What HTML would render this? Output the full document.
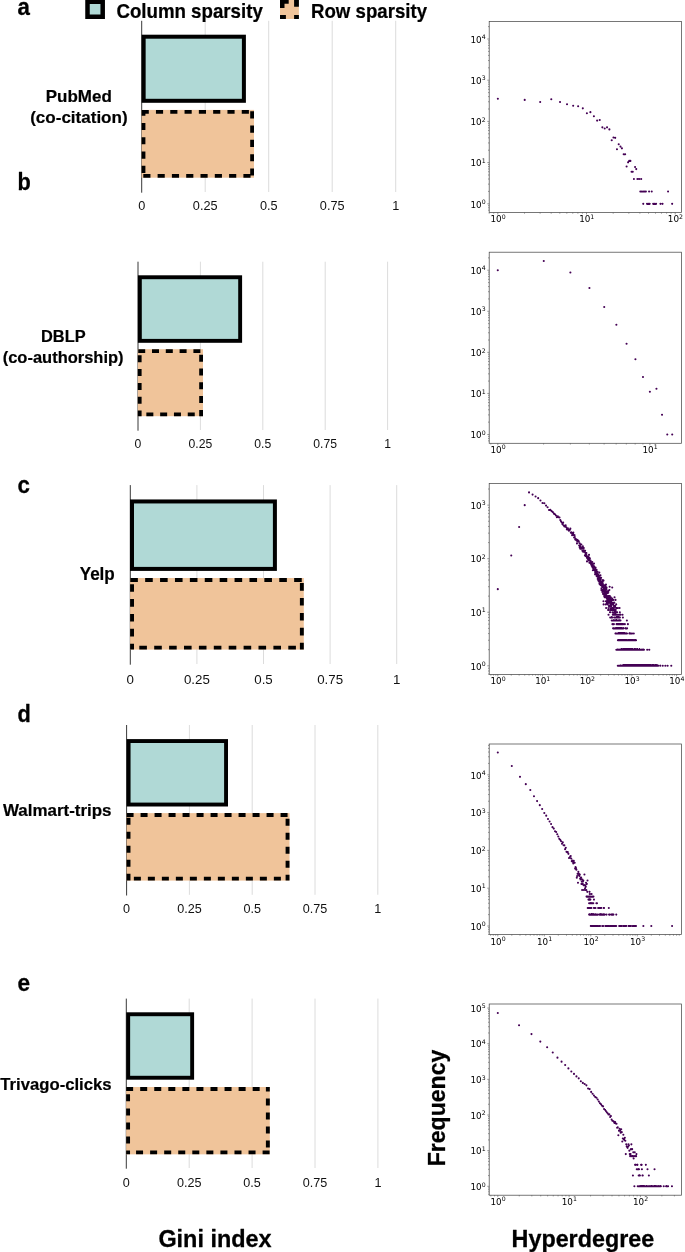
<!DOCTYPE html>
<html lang="en"><head><meta charset="utf-8"><title>Sparsity and hyperdegree distributions</title>
<style>html,body{margin:0;padding:0;background:#fff;}body{width:685px;height:1252px;overflow:hidden;}svg{display:block;}</style>
</head><body>
<svg width="685" height="1252" viewBox="0 0 685 1252">
<rect width="685" height="1252" fill="#fff"/>
<g>
<line x1="205.2" y1="20.8" x2="205.2" y2="192" stroke="#d0d0d0" stroke-width="0.75"/>
<line x1="268.7" y1="20.8" x2="268.7" y2="192" stroke="#d0d0d0" stroke-width="0.75"/>
<line x1="332.2" y1="20.8" x2="332.2" y2="192" stroke="#d0d0d0" stroke-width="0.75"/>
<line x1="395.7" y1="20.8" x2="395.7" y2="192" stroke="#d0d0d0" stroke-width="0.75"/>
<line x1="141.7" y1="20.8" x2="141.7" y2="192.7" stroke="#222" stroke-width="0.9"/>
<rect x="143.65" y="36.7" width="100.25" height="64.1" fill="#b0d9d6" stroke="#000" stroke-width="4"/>
<rect x="141.6" y="109.9" width="112.4" height="67.8" fill="#f0c49a"/>
<path d="M141.65 109.9h7.15v3.8h-7.15zM155.95 109.9h7.15v3.8h-7.15zM170.25 109.9h7.15v3.8h-7.15zM184.55 109.9h7.15v3.8h-7.15zM198.85 109.9h7.15v3.8h-7.15zM213.15 109.9h7.15v3.8h-7.15zM227.45 109.9h7.15v3.8h-7.15zM241.75 109.9h7.15v3.8h-7.15zM143.3 173.9h7.15v3.8h-7.15zM157.6 173.9h7.15v3.8h-7.15zM171.9 173.9h7.15v3.8h-7.15zM186.2 173.9h7.15v3.8h-7.15zM200.5 173.9h7.15v3.8h-7.15zM214.8 173.9h7.15v3.8h-7.15zM229.1 173.9h7.15v3.8h-7.15zM243.4 173.9h7.15v3.8h-7.15zM141.6 109.9h3.8v5.85h-3.8zM141.6 122.9h3.8v7.15h-3.8zM141.6 137.2h3.8v7.15h-3.8zM141.6 151.5h3.8v7.15h-3.8zM141.6 165.8h3.8v7.15h-3.8zM250.2 111.24h3.8v7.15h-3.8zM250.2 125.54h3.8v7.15h-3.8zM250.2 139.84h3.8v7.15h-3.8zM250.2 154.14h3.8v7.15h-3.8zM250.2 168.44h3.8v7.15h-3.8z" fill="#000"/>
<text x="45.7" y="102.4" font-family='"Liberation Sans", Arial, Helvetica, sans-serif' font-size="16.9" font-weight="bold" text-anchor="start" fill="#000" textLength="66.1" lengthAdjust="spacingAndGlyphs" stroke="#000" stroke-width="0.2" stroke-linejoin="round">PubMed</text>
<text x="30.2" y="123.4" font-family='"Liberation Sans", Arial, Helvetica, sans-serif' font-size="16.9" font-weight="bold" text-anchor="start" fill="#000" textLength="97.4" lengthAdjust="spacingAndGlyphs" stroke="#000" stroke-width="0.2" stroke-linejoin="round">(co-citation)</text>
<text x="141.7" y="210.3" font-family='"Liberation Sans", Arial, Helvetica, sans-serif' font-size="12.7" font-weight="normal" text-anchor="middle" fill="#111">0</text>
<text x="205.2" y="210.3" font-family='"Liberation Sans", Arial, Helvetica, sans-serif' font-size="12.7" font-weight="normal" text-anchor="middle" fill="#111">0.25</text>
<text x="268.7" y="210.3" font-family='"Liberation Sans", Arial, Helvetica, sans-serif' font-size="12.7" font-weight="normal" text-anchor="middle" fill="#111">0.5</text>
<text x="332.2" y="210.3" font-family='"Liberation Sans", Arial, Helvetica, sans-serif' font-size="12.7" font-weight="normal" text-anchor="middle" fill="#111">0.75</text>
<text x="395.7" y="210.3" font-family='"Liberation Sans", Arial, Helvetica, sans-serif' font-size="12.7" font-weight="normal" text-anchor="middle" fill="#111">1</text>
<text x="17.4" y="14.8" font-family='"Liberation Sans", Arial, Helvetica, sans-serif' font-size="24" font-weight="bold" text-anchor="start" fill="#000" textLength="12.4" lengthAdjust="spacingAndGlyphs" stroke="#000" stroke-width="0.29" stroke-linejoin="round">a</text>
</g>
<g>
<line x1="200.4" y1="261.7" x2="200.4" y2="430" stroke="#d0d0d0" stroke-width="0.75"/>
<line x1="262.8" y1="261.7" x2="262.8" y2="430" stroke="#d0d0d0" stroke-width="0.75"/>
<line x1="325.2" y1="261.7" x2="325.2" y2="430" stroke="#d0d0d0" stroke-width="0.75"/>
<line x1="387.6" y1="261.7" x2="387.6" y2="430" stroke="#d0d0d0" stroke-width="0.75"/>
<line x1="138" y1="261.7" x2="138" y2="430.7" stroke="#222" stroke-width="0.9"/>
<rect x="139.85" y="277.25" width="100.3" height="63.6" fill="#b0d9d6" stroke="#000" stroke-width="3.9"/>
<rect x="137.8" y="349.2" width="65.2" height="67" fill="#f0c49a"/>
<path d="M138.2 349.2h7v3.8h-7zM152 349.2h7v3.8h-7zM165.8 349.2h7v3.8h-7zM179.6 349.2h7v3.8h-7zM193.4 349.2h7v3.8h-7zM137.8 412.4h1.75v3.8h-1.75zM146.35 412.4h7v3.8h-7zM160.15 412.4h7v3.8h-7zM173.95 412.4h7v3.8h-7zM187.75 412.4h7v3.8h-7zM201.55 412.4h1.45v3.8h-1.45zM137.8 355.3h3.8v7h-3.8zM137.8 369.1h3.8v7h-3.8zM137.8 382.9h3.8v7h-3.8zM137.8 396.7h3.8v7h-3.8zM137.8 410.5h3.8v5.7h-3.8zM199.2 354.7h3.8v7h-3.8zM199.2 368.5h3.8v7h-3.8zM199.2 382.3h3.8v7h-3.8zM199.2 396.1h3.8v7h-3.8zM199.2 409.9h3.8v6.3h-3.8z" fill="#000"/>
<text x="41" y="341.6" font-family='"Liberation Sans", Arial, Helvetica, sans-serif' font-size="16.61" font-weight="bold" text-anchor="start" fill="#000" textLength="44.6" lengthAdjust="spacingAndGlyphs" stroke="#000" stroke-width="0.2" stroke-linejoin="round">DBLP</text>
<text x="2.7" y="362.8" font-family='"Liberation Sans", Arial, Helvetica, sans-serif' font-size="16.61" font-weight="bold" text-anchor="start" fill="#000" textLength="120.9" lengthAdjust="spacingAndGlyphs" stroke="#000" stroke-width="0.2" stroke-linejoin="round">(co-authorship)</text>
<text x="138" y="448.3" font-family='"Liberation Sans", Arial, Helvetica, sans-serif' font-size="12.2" font-weight="normal" text-anchor="middle" fill="#111">0</text>
<text x="200.4" y="448.3" font-family='"Liberation Sans", Arial, Helvetica, sans-serif' font-size="12.2" font-weight="normal" text-anchor="middle" fill="#111">0.25</text>
<text x="262.8" y="448.3" font-family='"Liberation Sans", Arial, Helvetica, sans-serif' font-size="12.2" font-weight="normal" text-anchor="middle" fill="#111">0.5</text>
<text x="325.2" y="448.3" font-family='"Liberation Sans", Arial, Helvetica, sans-serif' font-size="12.2" font-weight="normal" text-anchor="middle" fill="#111">0.75</text>
<text x="387.6" y="448.3" font-family='"Liberation Sans", Arial, Helvetica, sans-serif' font-size="12.2" font-weight="normal" text-anchor="middle" fill="#111">1</text>
<text x="17.4" y="189.5" font-family='"Liberation Sans", Arial, Helvetica, sans-serif' font-size="24" font-weight="bold" text-anchor="start" fill="#000" textLength="13.3" lengthAdjust="spacingAndGlyphs" stroke="#000" stroke-width="0.29" stroke-linejoin="round">b</text>
</g>
<g>
<line x1="196.9" y1="485.1" x2="196.9" y2="664" stroke="#d0d0d0" stroke-width="0.75"/>
<line x1="263.5" y1="485.1" x2="263.5" y2="664" stroke="#d0d0d0" stroke-width="0.75"/>
<line x1="330.1" y1="485.1" x2="330.1" y2="664" stroke="#d0d0d0" stroke-width="0.75"/>
<line x1="396.7" y1="485.1" x2="396.7" y2="664" stroke="#d0d0d0" stroke-width="0.75"/>
<line x1="130.3" y1="485.1" x2="130.3" y2="664.7" stroke="#222" stroke-width="0.9"/>
<rect x="132" y="501.45" width="142.9" height="67.45" fill="#b0d9d6" stroke="#000" stroke-width="4"/>
<rect x="130.1" y="578" width="173.7" height="71.6" fill="#f0c49a"/>
<path d="M130.26 578h7.6v3.9h-7.6zM145.16 578h7.6v3.9h-7.6zM160.06 578h7.6v3.9h-7.6zM174.96 578h7.6v3.9h-7.6zM189.86 578h7.6v3.9h-7.6zM204.76 578h7.6v3.9h-7.6zM219.66 578h7.6v3.9h-7.6zM234.56 578h7.6v3.9h-7.6zM249.46 578h7.6v3.9h-7.6zM264.36 578h7.6v3.9h-7.6zM279.26 578h7.6v3.9h-7.6zM294.16 578h7.6v3.9h-7.6zM130.1 645.7h1.9v3.9h-1.9zM139.3 645.7h7.6v3.9h-7.6zM154.2 645.7h7.6v3.9h-7.6zM169.1 645.7h7.6v3.9h-7.6zM184 645.7h7.6v3.9h-7.6zM198.9 645.7h7.6v3.9h-7.6zM213.8 645.7h7.6v3.9h-7.6zM228.7 645.7h7.6v3.9h-7.6zM243.6 645.7h7.6v3.9h-7.6zM258.5 645.7h7.6v3.9h-7.6zM273.4 645.7h7.6v3.9h-7.6zM288.3 645.7h7.6v3.9h-7.6zM303.2 645.7h0.6v3.9h-0.6zM130.1 584.16h3.9v7.6h-3.9zM130.1 599.06h3.9v7.6h-3.9zM130.1 613.96h3.9v7.6h-3.9zM130.1 628.86h3.9v7.6h-3.9zM130.1 643.76h3.9v5.84h-3.9zM299.9 583.1h3.9v7.6h-3.9zM299.9 598h3.9v7.6h-3.9zM299.9 612.9h3.9v7.6h-3.9zM299.9 627.8h3.9v7.6h-3.9zM299.9 642.7h3.9v6.9h-3.9z" fill="#000"/>
<text x="79.7" y="580" font-family='"Liberation Sans", Arial, Helvetica, sans-serif' font-size="17.73" font-weight="bold" text-anchor="start" fill="#000" textLength="35.1" lengthAdjust="spacingAndGlyphs" stroke="#000" stroke-width="0.21" stroke-linejoin="round">Yelp</text>
<text x="130.3" y="683.7" font-family='"Liberation Sans", Arial, Helvetica, sans-serif' font-size="13.3" font-weight="normal" text-anchor="middle" fill="#111">0</text>
<text x="196.9" y="683.7" font-family='"Liberation Sans", Arial, Helvetica, sans-serif' font-size="13.3" font-weight="normal" text-anchor="middle" fill="#111">0.25</text>
<text x="263.5" y="683.7" font-family='"Liberation Sans", Arial, Helvetica, sans-serif' font-size="13.3" font-weight="normal" text-anchor="middle" fill="#111">0.5</text>
<text x="330.1" y="683.7" font-family='"Liberation Sans", Arial, Helvetica, sans-serif' font-size="13.3" font-weight="normal" text-anchor="middle" fill="#111">0.75</text>
<text x="396.7" y="683.7" font-family='"Liberation Sans", Arial, Helvetica, sans-serif' font-size="13.3" font-weight="normal" text-anchor="middle" fill="#111">1</text>
<text x="17.4" y="493.1" font-family='"Liberation Sans", Arial, Helvetica, sans-serif' font-size="24" font-weight="bold" text-anchor="start" fill="#000" textLength="12.4" lengthAdjust="spacingAndGlyphs" stroke="#000" stroke-width="0.29" stroke-linejoin="round">c</text>
</g>
<g>
<line x1="189.4" y1="725" x2="189.4" y2="894.8" stroke="#d0d0d0" stroke-width="0.75"/>
<line x1="252.2" y1="725" x2="252.2" y2="894.8" stroke="#d0d0d0" stroke-width="0.75"/>
<line x1="315" y1="725" x2="315" y2="894.8" stroke="#d0d0d0" stroke-width="0.75"/>
<line x1="377.8" y1="725" x2="377.8" y2="894.8" stroke="#d0d0d0" stroke-width="0.75"/>
<line x1="126.6" y1="725" x2="126.6" y2="895.5" stroke="#222" stroke-width="0.9"/>
<rect x="128.6" y="741.05" width="97.45" height="63.5" fill="#b0d9d6" stroke="#000" stroke-width="3.9"/>
<rect x="126.57" y="813.1" width="162.93" height="67.5" fill="#f0c49a"/>
<path d="M126.57 813.1h7v3.9h-7zM140.57 813.1h7v3.9h-7zM154.57 813.1h7v3.9h-7zM168.57 813.1h7v3.9h-7zM182.57 813.1h7v3.9h-7zM196.57 813.1h7v3.9h-7zM210.57 813.1h7v3.9h-7zM224.57 813.1h7v3.9h-7zM238.57 813.1h7v3.9h-7zM252.57 813.1h7v3.9h-7zM266.57 813.1h7v3.9h-7zM280.57 813.1h7v3.9h-7zM126.57 876.7h0.3v3.9h-0.3zM133.87 876.7h7v3.9h-7zM147.87 876.7h7v3.9h-7zM161.87 876.7h7v3.9h-7zM175.87 876.7h7v3.9h-7zM189.87 876.7h7v3.9h-7zM203.87 876.7h7v3.9h-7zM217.87 876.7h7v3.9h-7zM231.87 876.7h7v3.9h-7zM245.87 876.7h7v3.9h-7zM259.87 876.7h7v3.9h-7zM273.87 876.7h7v3.9h-7zM287.87 876.7h1.63v3.9h-1.63zM126.57 817.85h3.9v7h-3.9zM126.57 831.85h3.9v7h-3.9zM126.57 845.85h3.9v7h-3.9zM126.57 859.85h3.9v7h-3.9zM126.57 873.85h3.9v6.75h-3.9zM285.6 818.87h3.9v7h-3.9zM285.6 832.87h3.9v7h-3.9zM285.6 846.87h3.9v7h-3.9zM285.6 860.87h3.9v7h-3.9zM285.6 874.87h3.9v5.73h-3.9z" fill="#000"/>
<text x="3" y="815.8" font-family='"Liberation Sans", Arial, Helvetica, sans-serif' font-size="16.71" font-weight="bold" text-anchor="start" fill="#000" textLength="108.5" lengthAdjust="spacingAndGlyphs" stroke="#000" stroke-width="0.2" stroke-linejoin="round">Walmart-trips</text>
<text x="126.6" y="913.3" font-family='"Liberation Sans", Arial, Helvetica, sans-serif' font-size="12.6" font-weight="normal" text-anchor="middle" fill="#111">0</text>
<text x="189.4" y="913.3" font-family='"Liberation Sans", Arial, Helvetica, sans-serif' font-size="12.6" font-weight="normal" text-anchor="middle" fill="#111">0.25</text>
<text x="252.2" y="913.3" font-family='"Liberation Sans", Arial, Helvetica, sans-serif' font-size="12.6" font-weight="normal" text-anchor="middle" fill="#111">0.5</text>
<text x="315" y="913.3" font-family='"Liberation Sans", Arial, Helvetica, sans-serif' font-size="12.6" font-weight="normal" text-anchor="middle" fill="#111">0.75</text>
<text x="377.8" y="913.3" font-family='"Liberation Sans", Arial, Helvetica, sans-serif' font-size="12.6" font-weight="normal" text-anchor="middle" fill="#111">1</text>
<text x="17.4" y="721.8" font-family='"Liberation Sans", Arial, Helvetica, sans-serif' font-size="24" font-weight="bold" text-anchor="start" fill="#000" textLength="13.3" lengthAdjust="spacingAndGlyphs" stroke="#000" stroke-width="0.29" stroke-linejoin="round">d</text>
</g>
<g>
<line x1="189.2" y1="998.6" x2="189.2" y2="1168" stroke="#d0d0d0" stroke-width="0.75"/>
<line x1="252.1" y1="998.6" x2="252.1" y2="1168" stroke="#d0d0d0" stroke-width="0.75"/>
<line x1="315" y1="998.6" x2="315" y2="1168" stroke="#d0d0d0" stroke-width="0.75"/>
<line x1="377.9" y1="998.6" x2="377.9" y2="1168" stroke="#d0d0d0" stroke-width="0.75"/>
<line x1="126.3" y1="998.6" x2="126.3" y2="1168.7" stroke="#222" stroke-width="0.9"/>
<rect x="128.19" y="1014.25" width="63.96" height="63.5" fill="#b0d9d6" stroke="#000" stroke-width="3.9"/>
<rect x="126.13" y="1087" width="143.67" height="67.35" fill="#f0c49a"/>
<path d="M126.13 1087h7v3.9h-7zM140.19 1087h7v3.9h-7zM154.25 1087h7v3.9h-7zM168.31 1087h7v3.9h-7zM182.37 1087h7v3.9h-7zM196.43 1087h7v3.9h-7zM210.49 1087h7v3.9h-7zM224.55 1087h7v3.9h-7zM238.61 1087h7v3.9h-7zM252.67 1087h7v3.9h-7zM266.73 1087h3.07v3.9h-3.07zM126.13 1150.45h2.87v3.9h-2.87zM136.06 1150.45h7v3.9h-7zM150.12 1150.45h7v3.9h-7zM164.18 1150.45h7v3.9h-7zM178.24 1150.45h7v3.9h-7zM192.3 1150.45h7v3.9h-7zM206.36 1150.45h7v3.9h-7zM220.42 1150.45h7v3.9h-7zM234.48 1150.45h7v3.9h-7zM248.54 1150.45h7v3.9h-7zM262.6 1150.45h7v3.9h-7zM126.13 1087h3.9v0.29h-3.9zM126.13 1094.35h3.9v7h-3.9zM126.13 1108.41h3.9v7h-3.9zM126.13 1122.47h3.9v7h-3.9zM126.13 1136.53h3.9v7h-3.9zM126.13 1150.59h3.9v3.76h-3.9zM265.9 1087h3.9v4.38h-3.9zM265.9 1098.44h3.9v7h-3.9zM265.9 1112.5h3.9v7h-3.9zM265.9 1126.56h3.9v7h-3.9zM265.9 1140.62h3.9v7h-3.9z" fill="#000"/>
<text x="0.3" y="1090" font-family='"Liberation Sans", Arial, Helvetica, sans-serif' font-size="16.74" font-weight="bold" text-anchor="start" fill="#000" textLength="111.3" lengthAdjust="spacingAndGlyphs" stroke="#000" stroke-width="0.2" stroke-linejoin="round">Trivago-clicks</text>
<text x="126.3" y="1187.1" font-family='"Liberation Sans", Arial, Helvetica, sans-serif' font-size="12.6" font-weight="normal" text-anchor="middle" fill="#111">0</text>
<text x="189.2" y="1187.1" font-family='"Liberation Sans", Arial, Helvetica, sans-serif' font-size="12.6" font-weight="normal" text-anchor="middle" fill="#111">0.25</text>
<text x="252.1" y="1187.1" font-family='"Liberation Sans", Arial, Helvetica, sans-serif' font-size="12.6" font-weight="normal" text-anchor="middle" fill="#111">0.5</text>
<text x="315" y="1187.1" font-family='"Liberation Sans", Arial, Helvetica, sans-serif' font-size="12.6" font-weight="normal" text-anchor="middle" fill="#111">0.75</text>
<text x="377.9" y="1187.1" font-family='"Liberation Sans", Arial, Helvetica, sans-serif' font-size="12.6" font-weight="normal" text-anchor="middle" fill="#111">1</text>
<text x="17.4" y="991.2" font-family='"Liberation Sans", Arial, Helvetica, sans-serif' font-size="24" font-weight="bold" text-anchor="start" fill="#000" textLength="12.6" lengthAdjust="spacingAndGlyphs" stroke="#000" stroke-width="0.29" stroke-linejoin="round">e</text>
</g>
<g>
<rect x="87.5" y="1.75" width="15.2" height="15" fill="#b0d9d6" stroke="#000" stroke-width="4.5"/>
<text x="116.4" y="17.5" font-family='"Liberation Sans", Arial, Helvetica, sans-serif' font-size="19.7" font-weight="bold" text-anchor="start" fill="#000" textLength="146.4" lengthAdjust="spacingAndGlyphs" stroke="#000" stroke-width="0.24" stroke-linejoin="round">Column sparsity</text>
<rect x="280" y="-1" width="18.9" height="20" fill="#f0c49a"/>
<path d="M280 0h8.7v3.8h-4.2v4.1h-4.5zM294.1 0h4.8v6.7h-4.8zM280 14.9h5.9v4.1h-5.9zM294.1 15h4.8v4h-4.8z" fill="#000"/>
<text x="311" y="17.5" font-family='"Liberation Sans", Arial, Helvetica, sans-serif' font-size="19.7" font-weight="bold" text-anchor="start" fill="#000" textLength="116" lengthAdjust="spacingAndGlyphs" stroke="#000" stroke-width="0.24" stroke-linejoin="round">Row sparsity</text>
</g>
<g>
<rect x="489.2" y="21.5" width="192.2" height="191" fill="#fff" stroke="#4a4a4a" stroke-width="0.75"/>
<path d="M489.2 212.5v1.2M493.74 212.5v1.2M497.8 212.5v1.9M524.5 212.5v1.2M540.12 212.5v1.2M551.2 212.5v1.2M559.8 212.5v1.2M566.82 212.5v1.2M572.76 212.5v1.2M577.9 212.5v1.2M582.44 212.5v1.2M586.5 212.5v1.9M613.2 212.5v1.2M628.82 212.5v1.2M639.9 212.5v1.2M648.5 212.5v1.2M655.52 212.5v1.2M661.46 212.5v1.2M666.6 212.5v1.2M671.14 212.5v1.2M675.2 212.5v1.9M489.2 210.18h-1.2M489.2 207.79h-1.2M489.2 205.69h-1.2M489.2 203.8h-1.9M489.2 191.4h-1.2M489.2 184.14h-1.2M489.2 179h-1.2M489.2 175h-1.2M489.2 171.74h-1.2M489.2 168.98h-1.2M489.2 166.59h-1.2M489.2 164.49h-1.2M489.2 162.6h-1.9M489.2 150.2h-1.2M489.2 142.94h-1.2M489.2 137.8h-1.2M489.2 133.8h-1.2M489.2 130.54h-1.2M489.2 127.78h-1.2M489.2 125.39h-1.2M489.2 123.29h-1.2M489.2 121.4h-1.9M489.2 109h-1.2M489.2 101.74h-1.2M489.2 96.6h-1.2M489.2 92.6h-1.2M489.2 89.34h-1.2M489.2 86.58h-1.2M489.2 84.19h-1.2M489.2 82.09h-1.2M489.2 80.2h-1.9M489.2 67.8h-1.2M489.2 60.54h-1.2M489.2 55.4h-1.2M489.2 51.4h-1.2M489.2 48.14h-1.2M489.2 45.38h-1.2M489.2 42.99h-1.2M489.2 40.89h-1.2M489.2 39h-1.9M489.2 26.6h-1.2" stroke="#555" stroke-width="0.6" fill="none"/>
<text x="498" y="222.1" font-family='"DejaVu Sans", "Liberation Sans", sans-serif' font-size="8.8" font-weight="normal" text-anchor="middle" fill="#000">10<tspan dy="-3.5" font-size="6.2">0</tspan></text>
<text x="586.7" y="222.1" font-family='"DejaVu Sans", "Liberation Sans", sans-serif' font-size="8.8" font-weight="normal" text-anchor="middle" fill="#000">10<tspan dy="-3.5" font-size="6.2">1</tspan></text>
<text x="675.4" y="222.1" font-family='"DejaVu Sans", "Liberation Sans", sans-serif' font-size="8.8" font-weight="normal" text-anchor="middle" fill="#000">10<tspan dy="-3.5" font-size="6.2">2</tspan></text>
<text x="485.6" y="207.5" font-family='"DejaVu Sans", "Liberation Sans", sans-serif' font-size="8.8" font-weight="normal" text-anchor="end" fill="#000">10<tspan dy="-3.5" font-size="6.2">0</tspan></text>
<text x="485.6" y="166.3" font-family='"DejaVu Sans", "Liberation Sans", sans-serif' font-size="8.8" font-weight="normal" text-anchor="end" fill="#000">10<tspan dy="-3.5" font-size="6.2">1</tspan></text>
<text x="485.6" y="125.1" font-family='"DejaVu Sans", "Liberation Sans", sans-serif' font-size="8.8" font-weight="normal" text-anchor="end" fill="#000">10<tspan dy="-3.5" font-size="6.2">2</tspan></text>
<text x="485.6" y="83.9" font-family='"DejaVu Sans", "Liberation Sans", sans-serif' font-size="8.8" font-weight="normal" text-anchor="end" fill="#000">10<tspan dy="-3.5" font-size="6.2">3</tspan></text>
<text x="485.6" y="42.7" font-family='"DejaVu Sans", "Liberation Sans", sans-serif' font-size="8.8" font-weight="normal" text-anchor="end" fill="#000">10<tspan dy="-3.5" font-size="6.2">4</tspan></text>
<path d="M497.85 98.72h0M524.71 99.89h0M540.18 101.93h0M551.28 99.31h0M560.04 101.93h0M567.04 104.27h0M573.18 105.73h0M578.14 106.31h0M582.81 108.36h0M586.9 113.32h0M590.4 112.15h0M593.91 116.24h0M597.12 120.62h0M599.74 120.04h0M602.37 127.34h0M604.71 128.5h0M607.04 127.34h0M609.38 129.38h0M611.72 140.18h0M613.47 137.55h0M615.22 137.85h0M616.97 149.23h0M618.72 144.27h0M620.47 146.61h0M621.93 148.36h0M623.69 154.2h0M625.15 154.2h0M626.61 166.46h0M628.07 162.37h0M629.23 160.91h0M630.4 160.91h0M631.57 171.72h0M632.74 171.72h0M633.91 179.01h0M635.07 167.04h0M636.24 169.09h0M637.41 179.01h0M639.16 179.01h0M641.2 179.01h0M640.33 191.57h0M641.79 191.57h0M643.25 191.57h0M644.71 191.57h0M645.88 191.57h0M649.09 191.57h0M651.72 191.57h0M668.07 191.57h0M643.25 203.83h0M647.04 203.83h0M648.5 203.83h0M649.67 203.83h0M653.18 203.83h0M654.64 203.83h0M656.09 203.83h0M660.47 203.83h0M662.52 203.83h0M672.15 203.83h0" stroke="#440154" stroke-width="2.1" stroke-linecap="round" fill="none"/>
</g>
<g>
<rect x="489.2" y="252.2" width="192.2" height="191.1" fill="#fff" stroke="#4a4a4a" stroke-width="0.75"/>
<path d="M490.84 443.3v1.2M497.8 443.3v1.9M543.59 443.3v1.2M570.37 443.3v1.2M589.37 443.3v1.2M604.11 443.3v1.2M616.16 443.3v1.2M626.34 443.3v1.2M635.16 443.3v1.2M642.94 443.3v1.2M649.9 443.3v1.9M489.2 440.86h-1.2M489.2 438.48h-1.2M489.2 436.38h-1.2M489.2 434.5h-1.9M489.2 422.14h-1.2M489.2 414.9h-1.2M489.2 409.77h-1.2M489.2 405.79h-1.2M489.2 402.54h-1.2M489.2 399.79h-1.2M489.2 397.41h-1.2M489.2 395.31h-1.2M489.2 393.43h-1.9M489.2 381.07h-1.2M489.2 373.83h-1.2M489.2 368.7h-1.2M489.2 364.72h-1.2M489.2 361.47h-1.2M489.2 358.72h-1.2M489.2 356.34h-1.2M489.2 354.24h-1.2M489.2 352.36h-1.9M489.2 340h-1.2M489.2 332.76h-1.2M489.2 327.63h-1.2M489.2 323.65h-1.2M489.2 320.4h-1.2M489.2 317.65h-1.2M489.2 315.27h-1.2M489.2 313.17h-1.2M489.2 311.29h-1.9M489.2 298.93h-1.2M489.2 291.69h-1.2M489.2 286.56h-1.2M489.2 282.58h-1.2M489.2 279.33h-1.2M489.2 276.58h-1.2M489.2 274.2h-1.2M489.2 272.1h-1.2M489.2 270.22h-1.9M489.2 257.86h-1.2" stroke="#555" stroke-width="0.6" fill="none"/>
<text x="498" y="452.9" font-family='"DejaVu Sans", "Liberation Sans", sans-serif' font-size="8.8" font-weight="normal" text-anchor="middle" fill="#000">10<tspan dy="-3.5" font-size="6.2">0</tspan></text>
<text x="650.1" y="452.9" font-family='"DejaVu Sans", "Liberation Sans", sans-serif' font-size="8.8" font-weight="normal" text-anchor="middle" fill="#000">10<tspan dy="-3.5" font-size="6.2">1</tspan></text>
<text x="485.6" y="438.2" font-family='"DejaVu Sans", "Liberation Sans", sans-serif' font-size="8.8" font-weight="normal" text-anchor="end" fill="#000">10<tspan dy="-3.5" font-size="6.2">0</tspan></text>
<text x="485.6" y="397.13" font-family='"DejaVu Sans", "Liberation Sans", sans-serif' font-size="8.8" font-weight="normal" text-anchor="end" fill="#000">10<tspan dy="-3.5" font-size="6.2">1</tspan></text>
<text x="485.6" y="356.06" font-family='"DejaVu Sans", "Liberation Sans", sans-serif' font-size="8.8" font-weight="normal" text-anchor="end" fill="#000">10<tspan dy="-3.5" font-size="6.2">2</tspan></text>
<text x="485.6" y="314.99" font-family='"DejaVu Sans", "Liberation Sans", sans-serif' font-size="8.8" font-weight="normal" text-anchor="end" fill="#000">10<tspan dy="-3.5" font-size="6.2">3</tspan></text>
<text x="485.6" y="273.92" font-family='"DejaVu Sans", "Liberation Sans", sans-serif' font-size="8.8" font-weight="normal" text-anchor="end" fill="#000">10<tspan dy="-3.5" font-size="6.2">4</tspan></text>
<path d="M497.78 270.22h0M543.77 261.02h0M570.38 272.52h0M589.43 287.96h0M604.22 307.02h0M616.37 324.76h0M626.56 343.81h0M635.43 359.25h0M642.98 376.99h0M649.88 391.77h0M656.45 388.82h0M662.04 414.77h0M667.29 434.48h0M672.22 434.48h0" stroke="#440154" stroke-width="2.1" stroke-linecap="round" fill="none"/>
</g>
<g>
<rect x="489.2" y="483.5" width="192.2" height="190.9" fill="#fff" stroke="#4a4a4a" stroke-width="0.75"/>
<path d="M490.88 674.4v1.2M493.47 674.4v1.2M495.75 674.4v1.2M497.8 674.4v1.9M511.26 674.4v1.2M519.13 674.4v1.2M524.71 674.4v1.2M529.04 674.4v1.2M532.58 674.4v1.2M535.58 674.4v1.2M538.17 674.4v1.2M540.45 674.4v1.2M542.5 674.4v1.9M555.96 674.4v1.2M563.83 674.4v1.2M569.41 674.4v1.2M573.74 674.4v1.2M577.28 674.4v1.2M580.28 674.4v1.2M582.87 674.4v1.2M585.15 674.4v1.2M587.2 674.4v1.9M600.66 674.4v1.2M608.53 674.4v1.2M614.11 674.4v1.2M618.44 674.4v1.2M621.98 674.4v1.2M624.98 674.4v1.2M627.57 674.4v1.2M629.85 674.4v1.2M631.9 674.4v1.9M645.36 674.4v1.2M653.23 674.4v1.2M658.81 674.4v1.2M663.14 674.4v1.2M666.68 674.4v1.2M669.68 674.4v1.2M672.27 674.4v1.2M674.55 674.4v1.2M676.6 674.4v1.9M489.2 674.09h-1.2M489.2 670.99h-1.2M489.2 668.25h-1.2M489.2 665.8h-1.9M489.2 649.68h-1.2M489.2 640.25h-1.2M489.2 633.56h-1.2M489.2 628.37h-1.2M489.2 624.13h-1.2M489.2 620.54h-1.2M489.2 617.44h-1.2M489.2 614.7h-1.2M489.2 612.25h-1.9M489.2 596.13h-1.2M489.2 586.7h-1.2M489.2 580.01h-1.2M489.2 574.82h-1.2M489.2 570.58h-1.2M489.2 566.99h-1.2M489.2 563.89h-1.2M489.2 561.15h-1.2M489.2 558.7h-1.9M489.2 542.58h-1.2M489.2 533.15h-1.2M489.2 526.46h-1.2M489.2 521.27h-1.2M489.2 517.03h-1.2M489.2 513.44h-1.2M489.2 510.34h-1.2M489.2 507.6h-1.2M489.2 505.15h-1.9M489.2 489.03h-1.2" stroke="#555" stroke-width="0.6" fill="none"/>
<text x="498" y="684" font-family='"DejaVu Sans", "Liberation Sans", sans-serif' font-size="8.8" font-weight="normal" text-anchor="middle" fill="#000">10<tspan dy="-3.5" font-size="6.2">0</tspan></text>
<text x="542.7" y="684" font-family='"DejaVu Sans", "Liberation Sans", sans-serif' font-size="8.8" font-weight="normal" text-anchor="middle" fill="#000">10<tspan dy="-3.5" font-size="6.2">1</tspan></text>
<text x="587.4" y="684" font-family='"DejaVu Sans", "Liberation Sans", sans-serif' font-size="8.8" font-weight="normal" text-anchor="middle" fill="#000">10<tspan dy="-3.5" font-size="6.2">2</tspan></text>
<text x="632.1" y="684" font-family='"DejaVu Sans", "Liberation Sans", sans-serif' font-size="8.8" font-weight="normal" text-anchor="middle" fill="#000">10<tspan dy="-3.5" font-size="6.2">3</tspan></text>
<text x="676.8" y="684" font-family='"DejaVu Sans", "Liberation Sans", sans-serif' font-size="8.8" font-weight="normal" text-anchor="middle" fill="#000">10<tspan dy="-3.5" font-size="6.2">4</tspan></text>
<text x="485.6" y="669.5" font-family='"DejaVu Sans", "Liberation Sans", sans-serif' font-size="8.8" font-weight="normal" text-anchor="end" fill="#000">10<tspan dy="-3.5" font-size="6.2">0</tspan></text>
<text x="485.6" y="615.95" font-family='"DejaVu Sans", "Liberation Sans", sans-serif' font-size="8.8" font-weight="normal" text-anchor="end" fill="#000">10<tspan dy="-3.5" font-size="6.2">1</tspan></text>
<text x="485.6" y="562.4" font-family='"DejaVu Sans", "Liberation Sans", sans-serif' font-size="8.8" font-weight="normal" text-anchor="end" fill="#000">10<tspan dy="-3.5" font-size="6.2">2</tspan></text>
<text x="485.6" y="508.85" font-family='"DejaVu Sans", "Liberation Sans", sans-serif' font-size="8.8" font-weight="normal" text-anchor="end" fill="#000">10<tspan dy="-3.5" font-size="6.2">3</tspan></text>
<path d="M497.8 589.15h0M511.26 555.45h0M519.13 527.05h0M524.71 505.15h0M529.04 492.4h0M532.58 494.6h0M535.58 496.51h0M538.17 498.17h0M540.45 500.53h0M542.5 502.93h0M544.35 503.19h0M546.04 505.62h0M547.59 507.19h0M549.03 509.96h0M550.37 509.88h0M551.62 511.14h0M552.8 512.09h0M553.91 513.65h0M554.96 514.22h0M555.96 515.57h0M556.9 517.26h0M557.81 516.19h0M558.67 517.22h0M559.5 517.46h0M560.29 520h0M561.05 521.41h0M561.78 522.46h0M562.49 524.35h0M563.17 522.66h0M563.83 525.6h0M564.46 526.52h0M565.08 526.29h0M565.68 525.21h0M566.26 527.29h0M566.82 529.37h0M567.37 529.43h0M567.9 528.34h0M568.42 529.63h0M568.92 530.72h0M569.41 530.45h0M569.89 529.7h0M570.36 528.65h0M570.82 532.69h0M571.26 532.31h0M571.7 532.92h0M572.13 535.17h0M572.54 533.7h0M572.95 534.51h0M573.35 532.61h0M573.74 534.84h0M574.13 537.39h0M574.51 535.17h0M574.88 537.11h0M575.24 539.53h0M575.59 538.73h0M575.94 539.33h0M576.29 540.26h0M576.63 539.63h0M576.96 543.41h0M577.28 541.22h0M577.6 539.94h0M577.92 540.79h0M578.23 540.9h0M578.54 541.33h0M578.84 541.22h0M579.13 545.55h0M579.43 543.05h0M579.71 547.62h0M580 546.22h0M580.28 548.66h0M580.55 544.52h0M580.82 544.39h0M581.09 547.2h0M581.35 544.52h0M581.62 548.81h0M581.87 547.92h0M582.13 548.21h0M582.38 550.71h0M582.62 548.51h0M582.87 546.36h0M583.11 551.72h0M583.35 548.81h0M583.58 551.04h0M583.82 548.06h0M584.05 550.71h0M584.27 550.71h0M584.5 551.04h0M584.72 552.07h0M584.94 555.25h0M585.15 550.71h0M585.37 556.06h0M585.58 553.33h0M585.79 552.96h0M586 556.06h0M586.2 554.46h0M586.41 552.96h0M586.61 555.45h0M586.81 557.34h0M587 561.41h0M587.2 558.24h0M587.39 557.79h0M587.58 557.79h0M587.77 558.93h0M587.96 556.7h0M588.15 558.93h0M588.33 558.24h0M588.51 556.91h0M588.69 560.39h0M588.87 559.65h0M589.05 554.85h0M589.23 557.79h0M589.4 562.75h0M589.57 560.39h0M589.74 559.41h0M589.91 558.24h0M590.08 560.89h0M590.25 562.48h0M590.41 563.32h0M590.58 560.64h0M590.74 561.67h0M590.9 563.89h0M591.06 563.32h0M591.22 564.18h0M591.38 561.94h0M591.53 565.39h0M591.69 563.03h0M591.84 562.48h0M591.99 563.6h0M592.14 566.67h0M592.29 561.94h0M592.44 566.99h0M592.59 564.78h0M592.74 567.67h0M592.88 570.2h0M593.03 566.02h0M593.17 566.02h0M593.31 566.99h0M593.45 566.67h0M593.59 569.08h0M593.73 569.45h0M593.87 568.36h0M594.01 563.6h0M594.14 566.34h0M594.28 569.82h0M594.41 567.33h0M594.55 570.2h0M594.68 570.58h0M594.81 567.33h0M594.94 570.97h0M595.07 574.36h0M595.2 572.6h0M595.33 570.2h0M595.46 570.58h0M595.58 567.67h0M595.71 573.03h0M595.83 569.45h0M595.96 570.58h0M596.08 572.18h0M596.2 569.82h0M596.32 570.97h0M596.45 574.82h0M596.57 569.82h0M596.68 576.26h0M596.8 573.03h0M596.92 573.47h0M597.04 572.18h0M597.16 575.77h0M597.27 573.91h0M597.39 574.36h0M597.5 571.77h0M597.61 576.76h0M597.73 578.88h0M597.84 575.29h0M597.95 574.36h0M598.06 574.36h0M598.17 578.33h0M598.28 580.6h0M598.39 579.44h0M598.5 577.27h0M598.61 575.29h0M598.72 576.26h0M598.83 578.88h0M598.93 578.33h0M599.04 577.27h0M599.14 581.82h0M599.25 581.2h0M599.35 572.6h0M599.45 583.79h0M599.56 578.33h0M599.66 577.27h0M599.76 577.27h0M599.86 580.6h0M599.96 584.48h0M600.06 578.33h0M600.16 578.88h0M600.26 577.79h0M600.36 581.2h0M600.46 575.29h0M600.56 583.79h0M600.66 579.44h0M600.75 579.44h0M600.85 582.46h0M600.95 585.2h0M601.04 581.2h0M601.14 577.79h0M601.23 583.12h0M601.32 590.03h0M601.42 588.3h0M601.51 590.03h0M601.6 583.12h0M601.7 582.46h0M601.79 583.12h0M601.88 583.12h0M601.97 584.48h0M602.06 585.94h0M602.15 583.12h0M602.24 586.7h0M602.33 591.89h0M602.42 590.03h0M602.51 585.94h0M602.59 582.46h0M602.68 581.2h0M602.77 583.79h0M602.86 585.94h0M602.94 580.01h0M603.03 593.91h0M603.11 590.94h0M603.2 586.7h0M603.28 587.49h0M603.37 590.94h0M603.45 601.32h0M603.54 580.6h0M603.62 604.42h0M603.7 593.91h0M603.79 589.15h0M603.87 590.03h0M603.95 585.2h0M604.03 590.94h0M604.11 595h0M604.2 592.88h0M604.28 596.13h0M604.36 589.15h0M604.44 593.91h0M604.52 587.49h0M604.6 597.32h0M604.67 595h0M604.75 589.15h0M604.83 585.2h0M604.91 591.89h0M604.99 593.91h0M605.07 596.13h0M605.14 597.32h0M605.22 592.88h0M605.3 589.15h0M605.37 593.91h0M605.45 587.49h0M605.52 585.94h0M605.6 597.32h0M605.67 590.94h0M605.75 596.13h0M605.82 604.42h0M605.9 601.32h0M605.97 584.48h0M606.05 597.32h0M606.12 608.01h0M606.19 591.89h0M606.27 597.32h0M606.34 596.13h0M606.41 593.91h0M606.48 589.15h0M606.55 587.49h0M606.63 597.32h0M606.7 592.88h0M606.77 591.89h0M606.84 598.58h0M606.91 602.82h0M606.98 602.82h0M607.05 591.89h0M607.12 598.58h0M607.19 597.32h0M607.26 599.91h0M607.33 602.82h0M607.39 591.89h0M607.46 601.32h0M607.53 596.13h0M607.6 598.58h0M607.67 601.32h0M607.73 592.88h0M607.8 604.42h0M607.87 598.58h0M607.94 592.88h0M608 598.58h0M608.07 610.03h0M608.14 590.94h0M608.2 602.82h0M608.27 591.89h0M608.33 591.89h0M608.4 599.91h0M608.46 608.01h0M608.53 614.7h0M608.59 610.03h0M608.66 596.13h0M608.72 596.13h0M608.78 596.13h0M608.85 599.91h0M608.91 601.32h0M608.98 601.32h0M609.04 606.15h0M609.1 597.32h0M609.16 602.82h0M609.23 598.58h0M609.29 601.32h0M609.35 590.03h0M609.41 596.13h0M609.47 602.82h0M609.54 598.58h0M609.6 602.82h0M609.66 586.7h0M609.72 601.32h0M609.78 599.91h0M609.84 596.13h0M609.9 597.32h0M609.96 612.25h0M610.02 601.32h0M610.08 598.58h0M610.14 612.25h0M610.2 617.44h0M610.26 610.03h0M610.32 599.91h0M610.38 604.42h0M610.44 608.01h0M610.49 599.91h0M610.55 602.82h0M610.61 604.42h0M610.67 610.03h0M610.73 610.03h0M610.79 597.32h0M610.84 608.01h0M610.9 606.15h0M610.96 601.32h0M611.01 599.91h0M611.07 610.03h0M611.13 601.32h0M611.18 604.42h0M611.24 610.03h0M611.3 606.15h0M611.35 602.82h0M611.41 610.03h0M611.46 617.44h0M611.52 608.01h0M611.58 617.44h0M611.63 599.91h0M611.69 602.82h0M611.74 620.54h0M611.8 617.44h0M611.85 602.82h0M611.9 599.91h0M611.96 617.44h0M612.01 608.01h0M612.07 602.82h0M612.12 598.58h0M612.17 610.03h0M612.23 587.49h0M612.28 604.42h0M612.33 617.44h0M612.39 602.82h0M612.44 624.13h0M612.49 612.25h0M612.55 608.01h0M612.6 604.42h0M612.65 610.03h0M612.7 610.03h0M612.76 599.91h0M612.81 614.7h0M612.86 610.03h0M612.91 614.7h0M612.96 614.7h0M613.01 608.01h0M613.07 628.37h0M613.12 614.7h0M613.17 620.54h0M613.22 608.01h0M613.27 599.91h0M613.32 604.42h0M613.37 620.54h0M613.42 610.03h0M613.47 602.82h0M613.52 608.01h0M613.57 614.7h0M613.62 610.03h0M613.67 628.37h0M613.72 608.01h0M613.77 620.54h0M613.82 610.03h0M613.87 624.13h0M613.92 610.03h0M613.97 612.25h0M614.01 606.15h0M614.06 608.01h0M614.11 620.54h0M614.16 614.7h0M614.21 614.7h0M614.26 602.82h0M614.31 602.82h0M614.35 617.44h0M614.4 620.54h0M614.45 610.03h0M614.5 614.7h0M614.54 597.32h0M614.59 606.15h0M614.64 612.25h0M614.69 614.7h0M614.73 610.03h0M614.78 612.25h0M614.83 610.03h0M614.87 612.25h0M614.92 610.03h0M614.97 628.37h0M615.01 606.15h0M615.06 620.54h0M615.11 606.15h0M615.15 612.25h0M615.2 612.25h0M615.24 612.25h0M615.29 617.44h0M615.33 612.25h0M615.38 614.7h0M615.43 614.7h0M615.47 633.56h0M615.52 599.91h0M615.56 612.25h0M615.61 610.03h0M615.65 614.7h0M615.7 633.56h0M615.74 614.7h0M615.79 610.03h0M615.83 628.37h0M615.87 620.54h0M615.92 620.54h0M615.96 614.7h0M616.01 608.01h0M616.05 612.25h0M616.09 620.54h0M616.14 628.37h0M616.18 604.42h0M616.23 628.37h0M616.27 628.37h0M616.31 614.7h0M616.36 649.68h0M616.4 620.54h0M616.44 617.44h0M616.48 608.01h0M616.53 620.54h0M616.57 617.44h0M616.61 624.13h0M616.66 617.44h0M616.7 624.13h0M616.74 612.25h0M616.78 617.44h0M616.83 617.44h0M616.87 624.13h0M616.91 633.56h0M616.95 628.37h0M616.99 620.54h0M617.04 624.13h0M617.08 612.25h0M617.12 628.37h0M617.16 620.54h0M617.2 624.13h0M617.24 628.37h0M617.28 624.13h0M617.33 633.56h0M617.37 614.7h0M617.41 624.13h0M617.45 628.37h0M617.49 617.44h0M617.53 649.68h0M617.57 617.44h0M617.61 617.44h0M617.65 617.44h0M617.69 628.37h0M617.73 649.68h0M617.77 628.37h0M617.81 665.8h0M617.85 608.01h0M617.89 624.13h0M617.93 640.25h0M617.97 624.13h0M618.01 649.68h0M618.05 628.37h0M618.09 628.37h0M618.13 617.44h0M618.17 640.25h0M618.21 649.68h0M618.25 624.13h0M618.29 628.37h0M618.33 624.13h0M618.37 640.25h0M618.41 617.44h0M618.44 633.56h0M618.48 640.25h0M618.52 617.44h0M618.56 620.54h0M618.6 624.13h0M618.64 617.44h0M618.68 628.37h0M618.71 633.56h0M618.75 620.54h0M618.79 633.56h0M618.83 633.56h0M618.87 665.8h0M618.9 633.56h0M618.94 614.7h0M618.98 640.25h0M619.02 617.44h0M619.06 628.37h0M619.09 640.25h0M619.13 628.37h0M619.21 628.37h0M619.24 649.68h0M619.28 665.8h0M619.32 633.56h0M619.35 633.56h0M619.39 620.54h0M619.43 628.37h0M619.46 628.37h0M619.5 640.25h0M619.54 617.44h0M619.58 608.01h0M619.61 633.56h0M619.65 624.13h0M619.68 628.37h0M619.72 620.54h0M619.76 628.37h0M619.79 649.68h0M619.83 612.25h0M619.87 640.25h0M619.9 617.44h0M619.94 633.56h0M619.97 614.7h0M620.01 620.54h0M620.05 640.25h0M620.08 640.25h0M620.12 614.7h0M620.15 633.56h0M620.19 624.13h0M620.22 633.56h0M620.26 649.68h0M620.29 633.56h0M620.33 628.37h0M620.36 624.13h0M620.4 665.8h0M620.43 614.7h0M620.47 665.8h0M620.5 620.54h0M620.54 624.13h0M620.57 640.25h0M620.61 628.37h0M620.64 649.68h0M620.68 633.56h0M620.71 633.56h0M620.75 665.8h0M620.78 633.56h0M620.82 640.25h0M620.85 628.37h0M620.89 640.25h0M620.92 624.13h0M620.95 633.56h0M620.99 633.56h0M621.02 624.13h0M621.06 628.37h0M621.09 640.25h0M621.12 649.68h0M621.16 633.56h0M621.19 633.56h0M621.22 640.25h0M621.26 665.8h0M621.29 640.25h0M621.33 633.56h0M621.36 649.68h0M621.39 649.68h0M621.43 633.56h0M621.46 640.25h0M621.49 640.25h0M621.53 633.56h0M621.56 649.68h0M621.59 649.68h0M621.62 649.68h0M621.66 628.37h0M621.69 640.25h0M621.72 640.25h0M621.76 624.13h0M621.79 640.25h0M621.82 640.25h0M621.85 649.68h0M621.89 633.56h0M621.92 628.37h0M621.95 640.25h0M621.98 640.25h0M622.05 640.25h0M622.11 649.68h0M622.14 665.8h0M622.18 640.25h0M622.21 665.8h0M622.24 649.68h0M622.27 624.13h0M622.34 633.56h0M622.37 633.56h0M622.4 649.68h0M622.43 633.56h0M622.46 640.25h0M622.53 614.7h0M622.59 640.25h0M622.62 640.25h0M622.65 633.56h0M622.68 665.8h0M622.71 633.56h0M622.74 640.25h0M622.78 665.8h0M622.81 628.37h0M622.84 633.56h0M622.87 640.25h0M622.9 617.44h0M622.93 633.56h0M622.99 633.56h0M623.02 649.68h0M623.05 649.68h0M623.08 640.25h0M623.11 633.56h0M623.15 649.68h0M623.18 640.25h0M623.21 633.56h0M623.24 624.13h0M623.27 640.25h0M623.3 640.25h0M623.33 640.25h0M623.36 628.37h0M623.39 649.68h0M623.42 649.68h0M623.45 628.37h0M623.48 649.68h0M623.51 665.8h0M623.54 633.56h0M623.57 649.68h0M623.6 665.8h0M623.63 649.68h0M623.66 665.8h0M623.69 649.68h0M623.75 633.56h0M623.77 640.25h0M623.8 649.68h0M623.86 665.8h0M623.89 665.8h0M623.92 649.68h0M623.95 640.25h0M623.98 665.8h0M624.01 640.25h0M624.04 640.25h0M624.07 649.68h0M624.1 665.8h0M624.13 649.68h0M624.15 633.56h0M624.21 640.25h0M624.27 640.25h0M624.3 665.8h0M624.38 649.68h0M624.41 649.68h0M624.44 640.25h0M624.47 665.8h0M624.5 665.8h0M624.53 649.68h0M624.56 633.56h0M624.58 649.68h0M624.61 633.56h0M624.64 649.68h0M624.67 649.68h0M624.7 665.8h0M624.75 649.68h0M624.78 649.68h0M624.81 633.56h0M624.84 624.13h0M624.89 640.25h0M624.92 640.25h0M624.95 649.68h0M624.98 649.68h0M625 633.56h0M625.03 649.68h0M625.06 633.56h0M625.09 649.68h0M625.11 665.8h0M625.14 665.8h0M625.17 665.8h0M625.2 665.8h0M625.22 665.8h0M625.25 649.68h0M625.33 640.25h0M625.36 649.68h0M625.39 640.25h0M625.44 640.25h0M625.47 665.8h0M625.5 649.68h0M625.52 628.37h0M625.55 649.68h0M625.58 640.25h0M625.6 649.68h0M625.63 665.8h0M625.66 640.25h0M625.68 649.68h0M625.71 649.68h0M625.76 628.37h0M625.79 640.25h0M625.84 665.8h0M625.87 649.68h0M625.9 665.8h0M625.95 649.68h0M625.98 649.68h0M626 640.25h0M626.03 649.68h0M626.05 665.8h0M626.08 633.56h0M626.11 649.68h0M626.13 665.8h0M626.16 665.8h0M626.19 640.25h0M626.21 640.25h0M626.24 665.8h0M626.26 665.8h0M626.29 649.68h0M626.32 665.8h0M626.37 640.25h0M626.39 640.25h0M626.42 665.8h0M626.44 633.56h0M626.47 640.25h0M626.5 665.8h0M626.52 649.68h0M626.55 665.8h0M626.57 665.8h0M626.67 649.68h0M626.7 640.25h0M626.75 665.8h0M626.78 640.25h0M626.8 665.8h0M626.83 665.8h0M626.85 640.25h0M626.88 620.54h0M626.9 649.68h0M626.93 649.68h0M626.98 633.56h0M627 665.8h0M627.03 640.25h0M627.08 628.37h0M627.1 665.8h0M627.13 665.8h0M627.15 640.25h0M627.18 665.8h0M627.2 649.68h0M627.25 649.68h0M627.27 665.8h0M627.32 649.68h0M627.35 665.8h0M627.4 665.8h0M627.42 665.8h0M627.45 665.8h0M627.47 649.68h0M627.5 649.68h0M627.52 649.68h0M627.62 665.8h0M627.66 649.68h0M627.69 665.8h0M627.71 649.68h0M627.79 649.68h0M627.81 649.68h0M627.86 665.8h0M627.88 649.68h0M627.9 624.13h0M627.93 649.68h0M627.95 665.8h0M628.09 649.68h0M628.12 665.8h0M628.17 649.68h0M628.19 649.68h0M628.24 665.8h0M628.28 649.68h0M628.33 665.8h0M628.38 665.8h0M628.4 649.68h0M628.45 649.68h0M628.49 649.68h0M628.52 649.68h0M628.54 665.8h0M628.56 640.25h0M628.58 649.68h0M628.61 665.8h0M628.63 640.25h0M628.68 665.8h0M628.7 640.25h0M628.72 649.68h0M628.79 649.68h0M628.81 640.25h0M628.88 649.68h0M628.9 649.68h0M628.95 665.8h0M628.99 665.8h0M629.06 649.68h0M629.08 665.8h0M629.11 665.8h0M629.13 640.25h0M629.15 665.8h0M629.17 665.8h0M629.2 649.68h0M629.22 640.25h0M629.24 649.68h0M629.26 640.25h0M629.29 665.8h0M629.31 649.68h0M629.33 640.25h0M629.35 633.56h0M629.37 640.25h0M629.44 633.56h0M629.46 649.68h0M629.51 665.8h0M629.53 649.68h0M629.55 649.68h0M629.57 649.68h0M629.59 633.56h0M629.62 640.25h0M629.64 649.68h0M629.66 665.8h0M629.68 649.68h0M629.7 665.8h0M629.77 665.8h0M629.81 665.8h0M629.85 665.8h0M629.88 665.8h0M629.9 665.8h0M629.94 649.68h0M629.96 665.8h0M630.01 649.68h0M630.05 649.68h0M630.07 665.8h0M630.09 665.8h0M630.11 665.8h0M630.13 649.68h0M630.15 665.8h0M630.18 649.68h0M630.2 640.25h0M630.22 665.8h0M630.24 649.68h0M630.28 649.68h0M630.3 640.25h0M630.32 665.8h0M630.39 649.68h0M630.43 665.8h0M630.47 649.68h0M630.49 649.68h0M630.51 649.68h0M630.53 665.8h0M630.55 665.8h0M630.6 665.8h0M630.62 665.8h0M630.7 665.8h0M630.72 649.68h0M630.74 633.56h0M630.78 649.68h0M630.8 665.8h0M630.82 640.25h0M630.84 649.68h0M630.86 633.56h0M630.9 640.25h0M630.92 640.25h0M630.95 665.8h0M630.99 665.8h0M631.01 649.68h0M631.03 665.8h0M631.07 665.8h0M631.09 640.25h0M631.15 665.8h0M631.17 665.8h0M631.21 649.68h0M631.23 649.68h0M631.25 665.8h0M631.27 665.8h0M631.31 640.25h0M631.33 649.68h0M631.37 649.68h0M631.39 665.8h0M631.41 665.8h0M631.43 665.8h0M631.45 665.8h0M631.47 640.25h0M631.49 649.68h0M631.51 649.68h0M631.53 649.68h0M631.55 665.8h0M631.61 665.8h0M631.67 640.25h0M631.74 649.68h0M631.76 665.8h0M631.78 665.8h0M631.82 665.8h0M631.88 640.25h0M631.9 649.68h0M631.94 665.8h0M631.96 665.8h0M631.98 665.8h0M632.02 640.25h0M632.04 649.68h0M632.07 665.8h0M632.09 649.68h0M632.11 633.56h0M632.13 665.8h0M632.15 649.68h0M632.21 665.8h0M632.23 665.8h0M632.27 665.8h0M632.36 665.8h0M632.4 665.8h0M632.44 665.8h0M632.49 665.8h0M632.53 665.8h0M632.61 665.8h0M632.62 640.25h0M632.64 649.68h0M632.7 649.68h0M632.74 665.8h0M632.83 665.8h0M632.85 640.25h0M632.94 665.8h0M632.99 649.68h0M633.01 665.8h0M633.03 665.8h0M633.09 665.8h0M633.14 665.8h0M633.16 640.25h0M633.2 665.8h0M633.21 665.8h0M633.23 665.8h0M633.27 665.8h0M633.3 665.8h0M633.41 665.8h0M633.45 649.68h0M633.47 665.8h0M633.48 665.8h0M633.5 665.8h0M633.52 665.8h0M633.56 665.8h0M633.57 665.8h0M633.59 665.8h0M633.61 649.68h0M633.68 665.8h0M633.73 665.8h0M633.8 633.56h0M633.84 640.25h0M633.87 665.8h0M633.96 665.8h0M634.03 665.8h0M634.05 665.8h0M634.08 665.8h0M634.12 649.68h0M634.13 640.25h0M634.2 665.8h0M634.22 665.8h0M634.26 665.8h0M634.27 665.8h0M634.31 665.8h0M634.34 640.25h0M634.39 665.8h0M634.41 649.68h0M634.43 649.68h0M634.44 665.8h0M634.46 665.8h0M634.53 665.8h0M634.56 665.8h0M634.58 665.8h0M634.63 665.8h0M634.66 649.68h0M634.7 665.8h0M634.71 649.68h0M634.73 665.8h0M634.83 665.8h0M634.9 649.68h0M634.91 665.8h0M634.96 649.68h0M635 665.8h0M635.05 665.8h0M635.08 665.8h0M635.11 665.8h0M635.13 665.8h0M635.15 640.25h0M635.18 665.8h0M635.28 665.8h0M635.33 640.25h0M635.37 665.8h0M635.39 649.68h0M635.41 649.68h0M635.42 665.8h0M635.44 665.8h0M635.46 665.8h0M635.54 665.8h0M635.55 665.8h0M635.57 665.8h0M635.58 649.68h0M635.66 665.8h0M635.73 640.25h0M635.78 665.8h0M635.87 665.8h0M635.9 665.8h0M635.93 665.8h0M635.95 649.68h0M636.01 665.8h0M636.04 640.25h0M636.09 665.8h0M636.11 665.8h0M636.15 649.68h0M636.31 665.8h0M636.4 665.8h0M636.43 665.8h0M636.51 665.8h0M636.54 665.8h0M636.56 665.8h0M636.59 665.8h0M636.65 665.8h0M636.74 649.68h0M636.83 665.8h0M636.87 649.68h0M636.9 665.8h0M636.92 649.68h0M636.96 665.8h0M636.99 649.68h0M637.04 665.8h0M637.07 665.8h0M637.13 665.8h0M637.14 665.8h0M637.17 665.8h0M637.27 649.68h0M637.36 665.8h0M637.44 649.68h0M637.47 665.8h0M637.48 665.8h0M637.51 665.8h0M637.52 665.8h0M637.55 665.8h0M637.57 649.68h0M637.6 649.68h0M637.64 665.8h0M637.67 665.8h0M637.7 665.8h0M637.74 665.8h0M637.77 665.8h0M637.78 665.8h0M637.8 665.8h0M637.81 665.8h0M637.84 665.8h0M637.85 665.8h0M637.87 649.68h0M637.91 665.8h0M637.93 665.8h0M638.01 649.68h0M638.03 665.8h0M638.04 665.8h0M638.08 665.8h0M638.12 665.8h0M638.14 665.8h0M638.33 665.8h0M638.4 665.8h0M638.46 665.8h0M638.47 665.8h0M638.5 665.8h0M638.57 665.8h0M638.76 665.8h0M638.79 665.8h0M638.87 665.8h0M638.92 665.8h0M639.07 665.8h0M639.09 665.8h0M639.14 665.8h0M639.15 649.68h0M639.19 665.8h0M639.23 665.8h0M639.27 649.68h0M639.38 649.68h0M639.41 665.8h0M639.46 665.8h0M639.47 649.68h0M639.51 665.8h0M639.54 665.8h0M639.59 665.8h0M639.62 649.68h0M639.67 649.68h0M639.68 665.8h0M639.69 665.8h0M639.75 665.8h0M639.76 649.68h0M639.85 665.8h0M639.86 665.8h0M639.89 665.8h0M639.99 665.8h0M640.07 665.8h0M640.08 665.8h0M640.14 665.8h0M640.17 665.8h0M640.21 665.8h0M640.26 665.8h0M640.42 665.8h0M640.63 665.8h0M640.64 665.8h0M640.73 665.8h0M640.79 665.8h0M640.93 665.8h0M641.06 649.68h0M641.08 649.68h0M641.28 665.8h0M641.3 665.8h0M641.34 665.8h0M641.35 665.8h0M641.46 665.8h0M641.54 665.8h0M641.57 665.8h0M641.63 665.8h0M641.66 665.8h0M641.73 665.8h0M641.79 665.8h0M641.82 665.8h0M641.84 665.8h0M641.89 665.8h0M641.9 665.8h0M641.94 665.8h0M641.96 665.8h0M641.98 665.8h0M642.02 649.68h0M642.03 665.8h0M642.1 665.8h0M642.11 665.8h0M642.25 665.8h0M642.26 665.8h0M642.29 665.8h0M642.34 665.8h0M642.47 649.68h0M642.54 665.8h0M642.57 665.8h0M642.73 665.8h0M643.06 665.8h0M643.13 649.68h0M643.32 649.68h0M643.5 665.8h0M643.6 665.8h0M643.68 665.8h0M643.71 665.8h0M643.8 665.8h0M643.81 665.8h0M643.85 665.8h0M643.95 649.68h0M644.3 665.8h0M644.34 665.8h0M644.42 665.8h0M644.56 665.8h0M644.58 665.8h0M644.7 665.8h0M644.71 665.8h0M644.85 665.8h0M644.9 665.8h0M644.95 665.8h0M645.04 665.8h0M645.13 665.8h0M645.19 665.8h0M645.35 665.8h0M645.39 665.8h0M645.58 665.8h0M645.65 665.8h0M645.7 665.8h0M645.9 665.8h0M646.01 665.8h0M646.15 665.8h0M646.4 665.8h0M646.52 665.8h0M646.53 665.8h0M646.55 665.8h0M646.63 665.8h0M646.91 665.8h0M646.99 665.8h0M647.09 665.8h0M647.1 665.8h0M647.19 649.68h0M647.21 665.8h0M647.4 665.8h0M647.43 665.8h0M647.49 665.8h0M647.58 665.8h0M647.81 665.8h0M648.06 665.8h0M648.11 665.8h0M648.25 665.8h0M648.38 665.8h0M648.81 665.8h0M648.93 665.8h0M648.98 665.8h0M649.09 665.8h0M649.28 649.68h0M649.37 665.8h0M649.6 665.8h0M649.68 665.8h0M649.81 665.8h0M650.34 665.8h0M650.41 665.8h0M650.44 665.8h0M650.56 665.8h0M650.82 665.8h0M650.97 665.8h0M651.27 665.8h0M651.3 665.8h0M651.62 665.8h0M651.63 665.8h0M652.46 665.8h0M652.56 665.8h0M652.72 665.8h0M652.97 665.8h0M652.99 665.8h0M653 665.8h0M653.17 665.8h0M653.23 665.8h0M653.32 665.8h0M653.39 665.8h0M653.48 665.8h0M653.81 665.8h0M654.25 665.8h0M654.43 665.8h0M654.46 665.8h0M654.69 665.8h0M655.3 665.8h0M655.42 665.8h0M655.46 665.8h0M655.58 665.8h0M656.07 665.8h0M656.1 665.8h0M656.14 665.8h0M656.26 665.8h0M656.47 665.8h0M656.6 665.8h0M657.42 665.8h0M657.46 665.8h0M657.68 665.8h0M657.95 665.8h0M658.19 665.8h0M660.26 665.8h0M660.28 665.8h0M662.75 665.8h0M665.34 665.8h0M667.63 665.8h0M671.27 665.8h0" stroke="#440154" stroke-width="2.1" stroke-linecap="round" fill="none"/>
</g>
<g>
<rect x="489.2" y="744" width="192.2" height="190.5" fill="#fff" stroke="#4a4a4a" stroke-width="0.75"/>
<path d="M490.6 934.5v1.2M493.29 934.5v1.2M495.67 934.5v1.2M497.8 934.5v1.9M511.8 934.5v1.2M519.99 934.5v1.2M525.8 934.5v1.2M530.3 934.5v1.2M533.98 934.5v1.2M537.1 934.5v1.2M539.79 934.5v1.2M542.17 934.5v1.2M544.3 934.5v1.9M558.3 934.5v1.2M566.49 934.5v1.2M572.3 934.5v1.2M576.8 934.5v1.2M580.48 934.5v1.2M583.6 934.5v1.2M586.29 934.5v1.2M588.67 934.5v1.2M590.8 934.5v1.9M604.8 934.5v1.2M612.99 934.5v1.2M618.8 934.5v1.2M623.3 934.5v1.2M626.98 934.5v1.2M630.1 934.5v1.2M632.79 934.5v1.2M635.17 934.5v1.2M637.3 934.5v1.9M651.3 934.5v1.2M659.49 934.5v1.2M665.3 934.5v1.2M669.8 934.5v1.2M673.48 934.5v1.2M676.6 934.5v1.2M679.29 934.5v1.2M489.2 934.39h-1.2M489.2 931.86h-1.2M489.2 929.66h-1.2M489.2 927.73h-1.2M489.2 926h-1.9M489.2 914.62h-1.2M489.2 907.96h-1.2M489.2 903.24h-1.2M489.2 899.58h-1.2M489.2 896.59h-1.2M489.2 894.06h-1.2M489.2 891.86h-1.2M489.2 889.93h-1.2M489.2 888.2h-1.9M489.2 876.82h-1.2M489.2 870.16h-1.2M489.2 865.44h-1.2M489.2 861.78h-1.2M489.2 858.79h-1.2M489.2 856.26h-1.2M489.2 854.06h-1.2M489.2 852.13h-1.2M489.2 850.4h-1.9M489.2 839.02h-1.2M489.2 832.36h-1.2M489.2 827.64h-1.2M489.2 823.98h-1.2M489.2 820.99h-1.2M489.2 818.46h-1.2M489.2 816.26h-1.2M489.2 814.33h-1.2M489.2 812.6h-1.9M489.2 801.22h-1.2M489.2 794.56h-1.2M489.2 789.84h-1.2M489.2 786.18h-1.2M489.2 783.19h-1.2M489.2 780.66h-1.2M489.2 778.46h-1.2M489.2 776.53h-1.2M489.2 774.8h-1.9M489.2 763.42h-1.2M489.2 756.76h-1.2M489.2 752.04h-1.2M489.2 748.38h-1.2M489.2 745.39h-1.2" stroke="#555" stroke-width="0.6" fill="none"/>
<text x="498" y="944.5" font-family='"DejaVu Sans", "Liberation Sans", sans-serif' font-size="8.8" font-weight="normal" text-anchor="middle" fill="#000">10<tspan dy="-3.5" font-size="6.2">0</tspan></text>
<text x="544.5" y="944.5" font-family='"DejaVu Sans", "Liberation Sans", sans-serif' font-size="8.8" font-weight="normal" text-anchor="middle" fill="#000">10<tspan dy="-3.5" font-size="6.2">1</tspan></text>
<text x="591" y="944.5" font-family='"DejaVu Sans", "Liberation Sans", sans-serif' font-size="8.8" font-weight="normal" text-anchor="middle" fill="#000">10<tspan dy="-3.5" font-size="6.2">2</tspan></text>
<text x="637.5" y="944.5" font-family='"DejaVu Sans", "Liberation Sans", sans-serif' font-size="8.8" font-weight="normal" text-anchor="middle" fill="#000">10<tspan dy="-3.5" font-size="6.2">3</tspan></text>
<text x="485.6" y="929.7" font-family='"DejaVu Sans", "Liberation Sans", sans-serif' font-size="8.8" font-weight="normal" text-anchor="end" fill="#000">10<tspan dy="-3.5" font-size="6.2">0</tspan></text>
<text x="485.6" y="891.9" font-family='"DejaVu Sans", "Liberation Sans", sans-serif' font-size="8.8" font-weight="normal" text-anchor="end" fill="#000">10<tspan dy="-3.5" font-size="6.2">1</tspan></text>
<text x="485.6" y="854.1" font-family='"DejaVu Sans", "Liberation Sans", sans-serif' font-size="8.8" font-weight="normal" text-anchor="end" fill="#000">10<tspan dy="-3.5" font-size="6.2">2</tspan></text>
<text x="485.6" y="816.3" font-family='"DejaVu Sans", "Liberation Sans", sans-serif' font-size="8.8" font-weight="normal" text-anchor="end" fill="#000">10<tspan dy="-3.5" font-size="6.2">3</tspan></text>
<text x="485.6" y="778.5" font-family='"DejaVu Sans", "Liberation Sans", sans-serif' font-size="8.8" font-weight="normal" text-anchor="end" fill="#000">10<tspan dy="-3.5" font-size="6.2">4</tspan></text>
<path d="M497.8 752.49h0M511.8 766.05h0M519.99 776.84h0M525.8 784.14h0M530.3 789.99h0M533.98 796.22h0M537.1 801.08h0M539.79 805.13h0M542.17 809.06h0M544.3 812.98h0M546.22 815.66h0M547.98 818.93h0M549.6 821.46h0M551.09 824.04h0M552.49 827.16h0M553.79 828.61h0M555.02 831.2h0M556.17 831.93h0M557.26 834.28h0M558.3 836.44h0M559.28 838.86h0M560.22 839.78h0M561.12 841.21h0M561.98 843.74h0M562.8 842.38h0M563.6 845.23h0M564.36 845.35h0M565.09 849.14h0M565.8 847.68h0M566.49 851.77h0M567.15 852.31h0M567.79 852.13h0M568.41 853.86h0M569.01 857.98h0M569.6 857.73h0M570.17 856.49h0M570.72 856.02h0M571.26 858.51h0M571.78 861.14h0M572.3 860.52h0M572.79 861.78h0M573.28 863.51h0M573.76 860.82h0M574.22 862.79h0M574.67 862.79h0M575.12 868.6h0M575.55 867.17h0M575.98 868.11h0M576.39 869.63h0M576.8 877.66h0M577.2 876.02h0M577.59 873.83h0M577.98 882.68h0M578.36 871.89h0M578.73 873.83h0M579.09 875.26h0M579.45 876.02h0M579.8 874.53h0M580.14 878.55h0M580.48 879.49h0M580.82 878.55h0M581.15 877.66h0M581.47 883.89h0M581.79 881.54h0M582.1 889.93h0M582.41 879.49h0M582.71 883.89h0M583.01 881.54h0M583.31 880.48h0M583.6 885.21h0M583.88 889.93h0M584.17 885.21h0M584.44 874.53h0M584.72 885.21h0M584.99 888.2h0M585.26 885.21h0M585.52 889.93h0M585.78 886.64h0M586.04 882.68h0M586.29 889.93h0M586.54 896.59h0M586.79 883.89h0M587.04 896.59h0M587.28 891.86h0M587.52 880.48h0M587.75 907.96h0M587.99 896.59h0M588.22 907.96h0M588.45 899.58h0M588.67 907.96h0M588.9 899.58h0M589.12 896.59h0M589.33 899.58h0M589.55 891.86h0M589.76 894.06h0M589.98 903.24h0M590.18 907.96h0M590.39 899.58h0M590.6 903.24h0M590.8 926h0M591 926h0M591.2 907.96h0M591.4 907.96h0M591.59 894.06h0M591.79 914.62h0M591.98 914.62h0M592.72 914.62h0M593.09 926h0M593.45 926h0M594.31 926h0M594.98 926h0M595.47 926h0M596.86 926h0M597.45 926h0M598.99 926h0M599.12 926h0M599.52 926h0M600.04 926h0M602.22 926h0M603.22 926h0M605.39 926h0M605.49 926h0M605.88 926h0M606.26 926h0M606.81 926h0M607 926h0M607.18 926h0M607.53 926h0M608.14 926h0M608.73 926h0M609.06 914.62h0M609.14 926h0M610.33 926h0M610.63 926h0M610.93 926h0M611.45 914.62h0M611.66 926h0M612.02 926h0M612.44 926h0M612.65 914.62h0M612.92 926h0M613.65 926h0M613.84 926h0M614.35 926h0M614.54 926h0M615.33 926h0M616.21 926h0M616.27 914.62h0M619.2 926h0M619.83 926h0M620.16 926h0M621.17 926h0M621.57 926h0M623.26 926h0M623.46 926h0M623.5 926h0M624.06 926h0M624.25 926h0M624.97 926h0M625.23 926h0M625.41 926h0M625.73 926h0M626.16 926h0M626.23 926h0M628.57 926h0M629.24 926h0M629.86 926h0M630.21 926h0M630.47 926h0M630.67 926h0M632.46 926h0M633.63 926h0M633.85 926h0M634.04 926h0M634.09 926h0M634.49 926h0M634.88 926h0M635.06 926h0M635.24 926h0M636.01 926h0M643.36 926h0M597.01 926h0M594.48 926h0M597.16 926h0M600.04 926h0M592.35 926h0M591.79 926h0M591.79 926h0M593.09 926h0M595.31 926h0M594.31 926h0M595.63 914.62h0M601.04 914.62h0M602.89 914.62h0M593.97 914.62h0M600.79 914.62h0M599.65 914.62h0M594.14 914.62h0M603.22 914.62h0M600.67 914.62h0M591.59 914.62h0M601.75 914.62h0M601.87 914.62h0M592.91 914.62h0M591.59 914.62h0M595.79 914.62h0M601.04 914.62h0M596.86 914.62h0M604.08 914.62h0M597.88 914.62h0M593.45 914.62h0M603.76 914.62h0M589.12 914.62h0M599.52 914.62h0M595.14 914.62h0M591 914.62h0M593.27 914.62h0M604.7 914.62h0M589.33 914.62h0M600.42 914.62h0M604.7 914.62h0M594.14 914.62h0M589.55 914.62h0M592.17 914.62h0M591.4 914.62h0M602.89 914.62h0M590.39 914.62h0M609.78 914.62h0M612.92 914.62h0M609.78 914.62h0M613.45 914.62h0M606.54 914.62h0M611.88 914.62h0M594.14 907.96h0M599.52 907.96h0M594.65 907.96h0M594.14 907.96h0M594.31 907.96h0M589.98 907.96h0M594.31 907.96h0M598.44 907.96h0M591.2 907.96h0M599.65 907.96h0M598.16 907.96h0M601.04 907.96h0M603.66 907.96h0M604.08 907.96h0M595.47 907.96h0M599.78 907.96h0M600.79 907.96h0M600.42 907.96h0M593.97 907.96h0M588.22 907.96h0M589.12 907.96h0M589.98 907.96h0M601.16 907.96h0M588.9 907.96h0M608.81 907.96h0M591.2 903.24h0M591 903.24h0M591.98 903.24h0M589.12 903.24h0M596.41 903.24h0M592.72 903.24h0M597.01 903.24h0M593.27 903.24h0M589.98 899.58h0M589.98 899.58h0M593.97 899.58h0M589.76 899.58h0M589.33 899.58h0M589.98 899.58h0M589.76 896.59h0M593.45 896.59h0M592.35 896.59h0M590.8 896.59h0M651.3 926h0M672.09 926h0" stroke="#440154" stroke-width="2.1" stroke-linecap="round" fill="none"/>
</g>
<g>
<rect x="489.2" y="1004" width="192.2" height="191.2" fill="#fff" stroke="#4a4a4a" stroke-width="0.75"/>
<path d="M490.89 1195.2v1.2M494.54 1195.2v1.2M497.8 1195.2v1.9M519.26 1195.2v1.2M531.82 1195.2v1.2M540.73 1195.2v1.2M547.64 1195.2v1.2M553.28 1195.2v1.2M558.06 1195.2v1.2M562.19 1195.2v1.2M565.84 1195.2v1.2M569.1 1195.2v1.9M590.56 1195.2v1.2M603.12 1195.2v1.2M612.03 1195.2v1.2M618.94 1195.2v1.2M624.58 1195.2v1.2M629.36 1195.2v1.2M633.49 1195.2v1.2M637.14 1195.2v1.2M640.4 1195.2v1.9M661.86 1195.2v1.2M674.42 1195.2v1.2M489.2 1194.21h-1.2M489.2 1191.82h-1.2M489.2 1189.75h-1.2M489.2 1187.93h-1.2M489.2 1186.3h-1.9M489.2 1175.57h-1.2M489.2 1169.29h-1.2M489.2 1164.84h-1.2M489.2 1161.38h-1.2M489.2 1158.56h-1.2M489.2 1156.17h-1.2M489.2 1154.1h-1.2M489.2 1152.28h-1.2M489.2 1150.65h-1.9M489.2 1139.92h-1.2M489.2 1133.64h-1.2M489.2 1129.19h-1.2M489.2 1125.73h-1.2M489.2 1122.91h-1.2M489.2 1120.52h-1.2M489.2 1118.45h-1.2M489.2 1116.63h-1.2M489.2 1115h-1.9M489.2 1104.27h-1.2M489.2 1097.99h-1.2M489.2 1093.54h-1.2M489.2 1090.08h-1.2M489.2 1087.26h-1.2M489.2 1084.87h-1.2M489.2 1082.8h-1.2M489.2 1080.98h-1.2M489.2 1079.35h-1.9M489.2 1068.62h-1.2M489.2 1062.34h-1.2M489.2 1057.89h-1.2M489.2 1054.43h-1.2M489.2 1051.61h-1.2M489.2 1049.22h-1.2M489.2 1047.15h-1.2M489.2 1045.33h-1.2M489.2 1043.7h-1.9M489.2 1032.97h-1.2M489.2 1026.69h-1.2M489.2 1022.24h-1.2M489.2 1018.78h-1.2M489.2 1015.96h-1.2M489.2 1013.57h-1.2M489.2 1011.5h-1.2M489.2 1009.68h-1.2M489.2 1008.05h-1.9" stroke="#555" stroke-width="0.6" fill="none"/>
<text x="498" y="1204.8" font-family='"DejaVu Sans", "Liberation Sans", sans-serif' font-size="8.8" font-weight="normal" text-anchor="middle" fill="#000">10<tspan dy="-3.5" font-size="6.2">0</tspan></text>
<text x="569.3" y="1204.8" font-family='"DejaVu Sans", "Liberation Sans", sans-serif' font-size="8.8" font-weight="normal" text-anchor="middle" fill="#000">10<tspan dy="-3.5" font-size="6.2">1</tspan></text>
<text x="640.6" y="1204.8" font-family='"DejaVu Sans", "Liberation Sans", sans-serif' font-size="8.8" font-weight="normal" text-anchor="middle" fill="#000">10<tspan dy="-3.5" font-size="6.2">2</tspan></text>
<text x="485.6" y="1190" font-family='"DejaVu Sans", "Liberation Sans", sans-serif' font-size="8.8" font-weight="normal" text-anchor="end" fill="#000">10<tspan dy="-3.5" font-size="6.2">0</tspan></text>
<text x="485.6" y="1154.35" font-family='"DejaVu Sans", "Liberation Sans", sans-serif' font-size="8.8" font-weight="normal" text-anchor="end" fill="#000">10<tspan dy="-3.5" font-size="6.2">1</tspan></text>
<text x="485.6" y="1118.7" font-family='"DejaVu Sans", "Liberation Sans", sans-serif' font-size="8.8" font-weight="normal" text-anchor="end" fill="#000">10<tspan dy="-3.5" font-size="6.2">2</tspan></text>
<text x="485.6" y="1083.05" font-family='"DejaVu Sans", "Liberation Sans", sans-serif' font-size="8.8" font-weight="normal" text-anchor="end" fill="#000">10<tspan dy="-3.5" font-size="6.2">3</tspan></text>
<text x="485.6" y="1047.4" font-family='"DejaVu Sans", "Liberation Sans", sans-serif' font-size="8.8" font-weight="normal" text-anchor="end" fill="#000">10<tspan dy="-3.5" font-size="6.2">4</tspan></text>
<text x="485.6" y="1011.75" font-family='"DejaVu Sans", "Liberation Sans", sans-serif' font-size="8.8" font-weight="normal" text-anchor="end" fill="#000">10<tspan dy="-3.5" font-size="6.2">5</tspan></text>
<path d="M497.8 1012.99h0M519.05 1025.2h0M531.48 1034.11h0M540.31 1041.6h0M547.15 1047.25h0M552.74 1052.51h0M557.46 1057.66h0M561.56 1061.66h0M565.17 1065.06h0M568.4 1068.39h0M571.32 1071.54h0M573.99 1073.91h0M576.44 1076.41h0M578.72 1078.33h0M580.83 1081.26h0M582.81 1082.88h0M584.67 1083.97h0M586.42 1085.37h0M588.08 1088.55h0M589.65 1089.12h0M591.15 1091.89h0M592.58 1093.73h0M593.94 1095.56h0M595.24 1097.04h0M596.49 1097.79h0M597.7 1099.51h0M598.85 1101.45h0M599.97 1103.22h0M601.05 1104.35h0M602.08 1105.81h0M603.09 1106.42h0M604.06 1108.93h0M605.01 1109.68h0M605.92 1111.06h0M606.81 1112.31h0M607.67 1113.25h0M608.52 1114.39h0M609.33 1114.39h0M610.13 1116.98h0M610.91 1116.12h0M611.66 1119.45h0M612.4 1120.75h0M613.12 1120.97h0M613.83 1121.67h0M614.52 1122.91h0M615.19 1122.15h0M615.85 1123.43h0M616.5 1123.7h0M617.13 1127.71h0M617.75 1127.36h0M618.35 1135.27h0M618.95 1130.82h0M619.53 1128.8h0M620.11 1130.82h0M620.67 1132.64h0M621.22 1129.19h0M621.76 1132.16h0M622.3 1141.55h0M622.82 1138.44h0M623.34 1134.71h0M623.84 1139.16h0M624.34 1139.92h0M624.83 1137.75h0M625.32 1140.71h0M625.79 1154.1h0M626.26 1144.37h0M626.72 1146.59h0M627.18 1146.59h0M627.62 1147.83h0M628.06 1146.59h0M628.5 1144.37h0M628.93 1145.44h0M629.35 1150.65h0M629.77 1154.1h0M630.18 1156.17h0M630.59 1154.1h0M630.99 1149.17h0M631.38 1144.37h0M631.77 1156.17h0M632.16 1149.17h0M632.54 1156.17h0M632.92 1175.57h0M633.29 1152.28h0M633.65 1158.56h0M634.02 1156.17h0M634.38 1186.3h0M634.73 1152.28h0M635.08 1164.84h0M635.43 1164.84h0M635.77 1156.17h0M636.11 1156.17h0M636.44 1154.1h0M636.77 1169.29h0M637.1 1164.84h0M637.43 1164.84h0M637.75 1186.3h0M638.07 1169.29h0M638.38 1169.29h0M638.69 1175.57h0M639 1169.29h0M639.31 1175.57h0M639.61 1175.57h0M639.91 1175.57h0M640.5 1186.3h0M640.79 1186.3h0M641.07 1164.84h0M641.36 1186.3h0M641.64 1164.84h0M641.92 1169.29h0M642.47 1175.57h0M642.75 1175.57h0M657.7 1186.3h0M639.61 1186.3h0M654.91 1186.3h0M643.55 1186.3h0M646.81 1186.3h0M642.47 1186.3h0M656.16 1186.3h0M643.29 1186.3h0M646.57 1186.3h0M646.81 1186.3h0M644.59 1186.3h0M643.81 1186.3h0M654.91 1186.3h0M651.23 1186.3h0M655.45 1186.3h0M642.2 1186.3h0M650.6 1186.3h0M640.79 1186.3h0M641.07 1186.3h0M648.2 1186.3h0M651.64 1186.3h0M654.17 1186.3h0M651.02 1186.3h0M640.5 1186.3h0M647.04 1186.3h0M654.54 1186.3h0M659.16 1186.3h0M658.19 1186.3h0M649.32 1186.3h0M658.84 1186.3h0M644.33 1186.3h0M652.04 1186.3h0M655.09 1186.3h0M639 1186.3h0M640.79 1186.3h0M645.84 1186.3h0M643.55 1186.3h0M642.75 1186.3h0M650.6 1186.3h0M652.63 1186.3h0M649.32 1186.3h0M653.79 1186.3h0M645.84 1186.3h0M646.81 1186.3h0M641.92 1186.3h0M643.55 1186.3h0M649.32 1186.3h0M656.51 1186.3h0M649.1 1186.3h0M657.7 1186.3h0M668.06 1186.3h0M666.72 1186.3h0M666.72 1186.3h0M660.25 1186.3h0M666.1 1186.3h0M660.41 1186.3h0M666.6 1186.3h0M663.73 1186.3h0M660.86 1186.3h0M648.88 1175.57h0M647.51 1169.29h0M654.54 1169.29h0M645.84 1164.84h0M671.96 1186.3h0" stroke="#440154" stroke-width="2.1" stroke-linecap="round" fill="none"/>
</g>
<text x="158.4" y="1246.8" font-family='"Liberation Sans", Arial, Helvetica, sans-serif' font-size="23.8" font-weight="bold" text-anchor="start" fill="#000" textLength="113.2" lengthAdjust="spacingAndGlyphs" stroke="#000" stroke-width="0.29" stroke-linejoin="round">Gini index</text>
<text x="511.6" y="1246.8" font-family='"Liberation Sans", Arial, Helvetica, sans-serif' font-size="23.8" font-weight="bold" text-anchor="start" fill="#000" textLength="142.6" lengthAdjust="spacingAndGlyphs" stroke="#000" stroke-width="0.29" stroke-linejoin="round">Hyperdegree</text>
<text transform="translate(445.1 1166.3) rotate(-90)" font-family='"Liberation Sans", Arial, Helvetica, sans-serif' font-size="24.2" font-weight="bold" fill="#000" stroke="#000" stroke-width="0.3" stroke-linejoin="round" textLength="116.6" lengthAdjust="spacingAndGlyphs">Frequency</text>
</svg>
</body></html>
